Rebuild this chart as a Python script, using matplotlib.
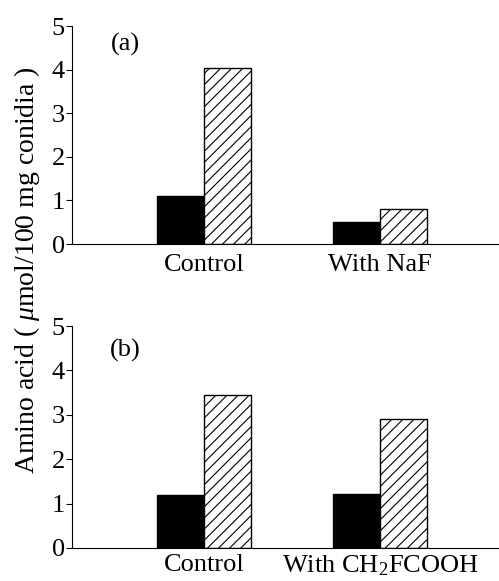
import numpy as np
import matplotlib
matplotlib.use('Agg')
import matplotlib.pyplot as plt

plt.rcParams['font.family'] = ['Liberation Serif', 'DejaVu Serif']
plt.rcParams['mathtext.fontset'] = 'custom'
plt.rcParams['mathtext.rm'] = 'Liberation Serif'
plt.rcParams['mathtext.it'] = 'Liberation Serif:italic'
plt.rcParams['hatch.linewidth'] = 0.8

# Данные
labels_a = ['Control', 'With NaF']
black_a = [1.1, 0.5]
hatched_a = [4.05, 0.8]

labels_b = ['Control', r'With CH$_2$FCOOH']
black_b = [1.2, 1.22]
hatched_b = [3.45, 2.9]

panel_names = ['(a)', '(b)']

fig = plt.figure(figsize=(4.99, 5.81), dpi=100)
ax_a = fig.add_axes([0.144, 0.58, 0.856, 0.375])
ax_b = fig.add_axes([0.144, 0.0568, 0.856, 0.382])

w = 0.267
x = np.arange(2)
fs = 19

for ax, labels, blk, hat, name, ny, pad in zip([ax_a, ax_b], [labels_a, labels_b],
                                               [black_a, black_b], [hatched_a, hatched_b],
                                               panel_names, [0.917, 0.89], [7, 4]):
    ax.bar(x - w / 2, blk, w, color='black', edgecolor='black', linewidth=1)
    ax.bar(x + w / 2, hat, w, color='white', edgecolor='black', linewidth=1, hatch='///')
    ax.set_xlim(-0.75, 1.676)
    ax.set_ylim(0, 5)
    ax.set_yticks([0, 1, 2, 3, 4, 5])
    ax.set_xticks(x)
    ax.set_xticklabels(labels, fontsize=fs)
    ax.tick_params(axis='x', length=0, pad=pad)
    ax.tick_params(axis='y', length=4, width=0.8, labelsize=fs, pad=1)
    ax.spines['top'].set_visible(False)
    ax.spines['right'].set_visible(False)
    ax.text(0.126, ny, name, transform=ax.transAxes, fontsize=fs,
            ha='center', va='center')

fig.text(0.054, 0.535, r'Amino acid ( $\mu$mol/100 mg conidia )', rotation=90,
         fontsize=fs + 1, va='center', ha='center')

plt.savefig('out.png', dpi=100)
